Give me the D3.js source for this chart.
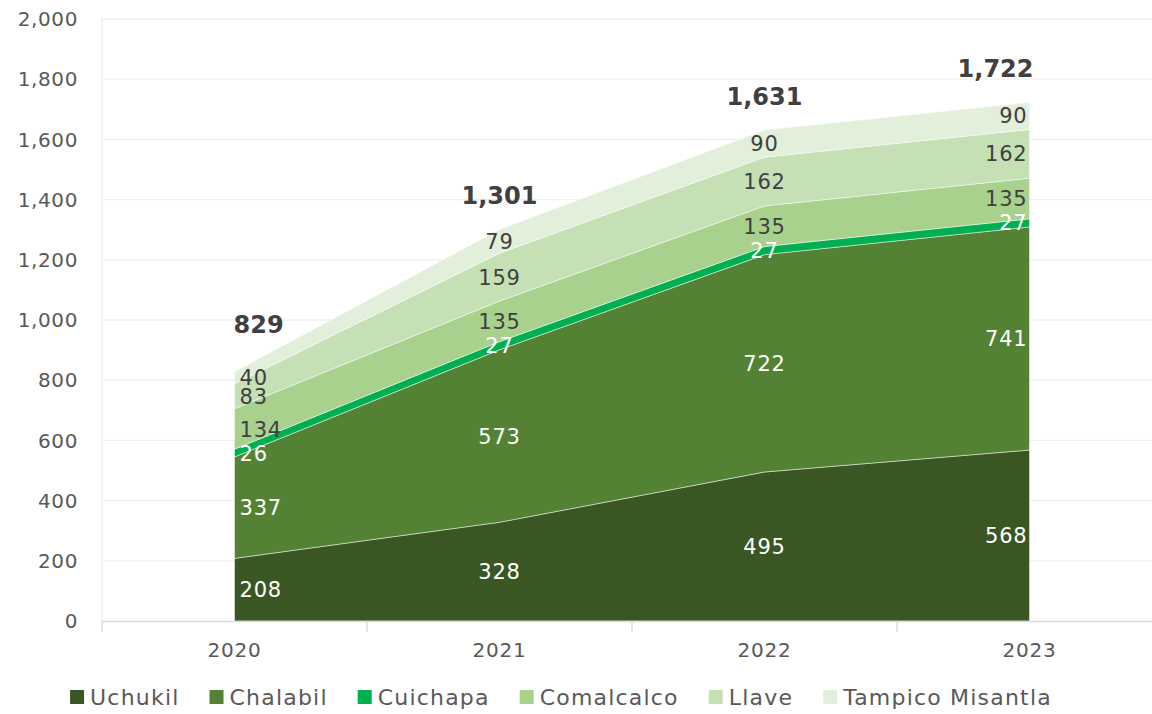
<!DOCTYPE html>
<html>
<head>
<meta charset="utf-8">
<script src="https://cdn.jsdelivr.net/npm/d3@7"></script>
<style>
  body { margin: 0; background: #fff; }
  text { font-family: "DejaVu Sans", "Open Sans", sans-serif; }
</style>
</head>
<body>
<div id="chart"></div>
<script>
// chart data
var years = ["2020", "2021", "2022", "2023"];
var uchukil = [208, 328, 495, 568];
var chalabil = [337, 573, 722, 741];
var cuichapa = [26, 27, 27, 27];
var comalcalco = [134, 135, 135, 135];
var llave = [83, 159, 162, 162];
var tampico = [40, 79, 90, 90];
var totals = [829, 1301, 1631, 1722];
var yTicks = [0, 200, 400, 600, 800, 1000, 1200, 1400, 1600, 1800, 2000];

var series = [
    {name: "Uchukil", values: uchukil, color: "#3a5723", label: "#ffffff"},
    {name: "Chalabil", values: chalabil, color: "#548235", label: "#ffffff"},
    {name: "Cuichapa", values: cuichapa, color: "#00b050", label: "#ffffff"},
    {name: "Comalcalco", values: comalcalco, color: "#a9d18e", label: "#404040"},
    {name: "Llave", values: llave, color: "#c5e0b4", label: "#404040"},
    {name: "Tampico Misantla", values: tampico, color: "#e2efda", label: "#404040"}
];

var W = 1152, H = 714;
var margin = {top: 19, left: 102, right: -10, bottom: 93};
var width = W - margin.left - margin.right,
    height = H - margin.top - margin.bottom;

var svg = d3.select("#chart").append("svg").attr("width", W).attr("height", H);
var g = svg.append("g").attr("transform", "translate(" + margin.left + "," + margin.top + ")");

var x = d3.scaleBand().domain(years).range([0, width]);
var y = d3.scaleLinear().domain([0, 2000]).range([height, 0]);
var cx = function(yr) { return x(yr) + x.bandwidth() / 2; };

// rows for d3.stack
var rows = years.map(function(yr, i) {
    var r = {year: yr};
    series.forEach(function(s) { r[s.name] = s.values[i]; });
    return r;
});
var stack = d3.stack().keys(series.map(function(s) { return s.name; }));
var layers = stack(rows);

//---- gridlines
g.selectAll(".grid").data(yTicks.slice(1)).enter().append("line")
    .attr("x1", 0).attr("x2", width)
    .attr("y1", function(d) { return y(d); }).attr("y2", function(d) { return y(d); })
    .style("stroke", "#efefef").style("stroke-width", 1.3);
g.append("line").attr("x1", 0).attr("x2", 0).attr("y1", 0).attr("y2", height)
    .style("stroke", "#efefef").style("stroke-width", 1.3);

// y labels
g.selectAll(".ylab").data(yTicks).enter().append("text")
    .attr("x", -24).attr("y", function(d) { return y(d); }).attr("dy", "0.36em")
    .attr("text-anchor", "end").style("font-size", "20px").style("fill", "#595959")
    .style("letter-spacing", "0.6px")
    .text(function(d) { return d3.format(",")(d); });

//---- areas
var area = d3.area()
    .x(function(d) { return cx(d.data.year); })
    .y0(function(d) { return y(d[0]); })
    .y1(function(d) { return y(d[1]); });

g.selectAll(".layer").data(layers).enter().append("path")
    .attr("d", area)
    .style("fill", function(d, i) { return series[i].color; })
    .style("stroke", "rgba(255,255,255,0.6)").style("stroke-width", 0.8);

//---- x axis
var xAxis = d3.axisBottom(x).tickSize(0).tickPadding(22);
var ax = g.append("g").attr("transform", "translate(0," + height + ")").call(xAxis);
ax.select(".domain").style("stroke", "#d9d9d9").style("stroke-width", 1.3);
ax.selectAll("text").style("font-size", "20px").style("fill", "#595959")
    .style("font-family", "DejaVu Sans").style("letter-spacing", "0.8px");
// tick marks on band boundaries
g.selectAll(".xtick").data(years).enter().append("line")
    .attr("x1", function(d) { return x(d); }).attr("x2", function(d) { return x(d); })
    .attr("y1", height).attr("y2", height + 11)
    .style("stroke", "#d9d9d9").style("stroke-width", 1.3);

// anchor labels inside the area at the ends
function anchor(i) { return i === 0 ? "start" : (i === years.length - 1 ? "end" : "middle"); }
function shift(i) { return i === 0 ? 5 : (i === years.length - 1 ? -2 : 0); }

//---- value labels
layers.forEach(function(layer, k) {
    g.selectAll(".lab" + k).data(layer).enter().append("text")
        .attr("x", function(d, i) { return cx(years[i]) + shift(i); })
        .attr("y", function(d) { return y((d[0] + d[1]) / 2); }).attr("dy", "0.36em")
        .attr("text-anchor", function(d, i) { return anchor(i); })
        .style("font-size", "21px").style("fill", series[k].label)
        .style("letter-spacing", "0.8px")
        .text(function(d) { return d[1] - d[0]; });
});

//---- totals
g.selectAll(".tot").data(totals).enter().append("text")
    .attr("x", function(d, i) { return cx(years[i]) + (i === 0 ? -1 : (i === years.length - 1 ? 4 : 0)); })
    .attr("y", function(d, i) { return y(layers[layers.length - 1][i][1]) - (i === 0 ? 47 : 34); })
    .attr("dy", "0.36em")
    .attr("text-anchor", function(d, i) { return anchor(i); })
    .style("font-size", "24px").style("font-weight", "bold").style("fill", "#404040")
    .text(function(d) { return d3.format(",")(d); });

//---- legend
var legend = svg.append("g");
var items = legend.selectAll(".item").data(series).enter().append("g");
items.append("rect").attr("width", 14).attr("height", 14).attr("y", -7)
    .style("fill", function(d) { return d.color; });
items.append("text").attr("x", 20).attr("dy", "0.36em")
    .style("font-size", "22px").style("fill", "#595959").style("letter-spacing", "1.2px")
    .text(function(d) { return d.name; });
var gap = 30, pos = 0;
items.each(function() {
    var w = this.getBBox().width;
    d3.select(this).attr("transform", "translate(" + pos + ",0)");
    pos += w + gap;
});
pos -= gap;
legend.attr("transform", "translate(" + (561 - pos / 2) + ",697)");
</script>
</body>
</html>
